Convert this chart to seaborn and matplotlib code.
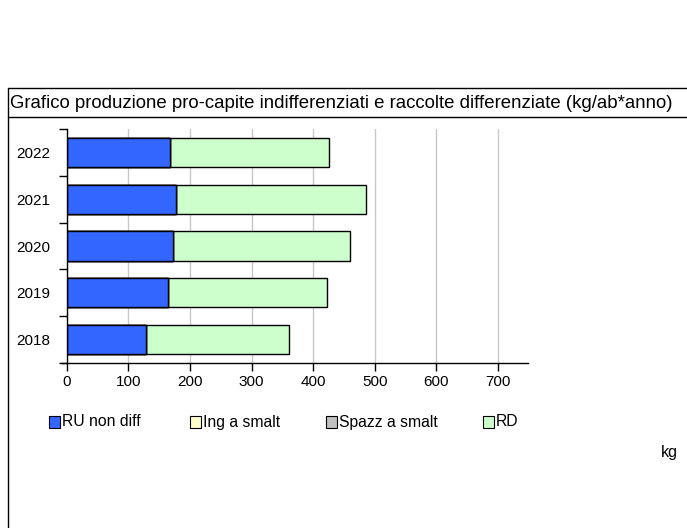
import matplotlib
matplotlib.use("Agg")
import matplotlib.pyplot as plt
from matplotlib.patches import Rectangle
from matplotlib.lines import Line2D
import seaborn as sns
import pandas as pd
import numpy as np

years = ["2022", "2021", "2020", "2019", "2018"]
ru_non_diff = [168, 178, 173, 165, 129]
ing_a_smalt = [0, 0, 0, 0, 0]
spazz_a_smalt = [0, 0, 0, 0, 0]
rd = [257, 307, 286, 257, 231]
series_names = ["RU non diff", "Ing a smalt", "Spazz a smalt", "RD"]
series_colors = ["#3366FF", "#FFFFCC", "#C0C0C0", "#CCFFCC"]
xticks = [0, 100, 200, 300, 400, 500, 600, 700]
title = "Grafico produzione pro-capite indifferenziati e raccolte differenziate (kg/ab*anno)"
unit = "kg"

sns.set_theme(style="white")
FONT = ["Liberation Sans Narrow", "Liberation Sans", "DejaVu Sans"]
plt.rcParams["font.family"] = FONT
plt.rcParams["text.color"] = "black"
plt.rcParams["xtick.color"] = "black"
plt.rcParams["ytick.color"] = "black"

fig = plt.figure(figsize=(6.87, 5.28), dpi=100)
W, H = 687, 528
ax = fig.add_axes([66.7 / W, (H - 363) / H, 461 / W, (363 - 129) / H])

df = pd.DataFrame({"year": years, "RU": ru_non_diff, "ING": ing_a_smalt,
                   "SPAZZ": spazz_a_smalt, "RD": rd})
cols = ["RU", "ING", "SPAZZ", "RD"]
cum = df[cols].cumsum(axis=1)
for col, color in reversed(list(zip(cols, series_colors))):
    tmp = pd.DataFrame({"year": df["year"], "val": cum[col]})
    sns.barplot(data=tmp, y="year", x="val", order=years, orient="h",
                color=color, saturation=1, edgecolor="black", linewidth=1.0,
                width=0.62, ax=ax, zorder=3)

ax.set_xlim(0, 748)
ax.set_ylim(4.5, -0.5)
ax.set_xticks(xticks)
ax.set_xticklabels([str(v) for v in xticks])
ax.set_xlabel("")
ax.set_ylabel("")
ax.grid(axis="x", color="#C8C8C8", linewidth=1.0, zorder=0)
ax.grid(axis="y", visible=False)
for s in ["top", "right"]:
    ax.spines[s].set_visible(False)
for s in ["left", "bottom"]:
    ax.spines[s].set_color("black")
    ax.spines[s].set_linewidth(1.0)
ax.spines["left"].set_zorder(5)
ax.tick_params(axis="x", direction="out", length=6, width=1, colors="black",
               labelsize=11, pad=3, bottom=True)
ax.tick_params(axis="y", which="major", length=0, labelsize=11, pad=12, left=True,
               colors="black")
ax.set_yticks(np.arange(-0.5, 5.0, 1.0), minor=True)
ax.tick_params(axis="y", which="minor", direction="out", length=6, width=1,
               color="black", left=True)
ax.add_line(Line2D([-6 / 461, 0], [0, 0], transform=ax.transAxes, color="black",
                   linewidth=1.0, clip_on=False))

# frame around chart
fig.add_artist(Line2D([8 / W, 8 / W], [0, 1 - 88 / H], transform=fig.transFigure,
                      color="black", linewidth=1.0))
fig.add_artist(Line2D([8 / W, 1], [1 - 88 / H, 1 - 88 / H], transform=fig.transFigure,
                      color="black", linewidth=1.0))
fig.add_artist(Line2D([8 / W, 1], [1 - 117 / H, 1 - 117 / H], transform=fig.transFigure,
                      color="black", linewidth=1.0))
fig.text(10 / W, 1 - 103 / H, title, fontsize=13.4, va="center", ha="left", color="black")

# legend
leg_x = [49, 190, 326, 483]
for x0, name, color in zip(leg_x, series_names, series_colors):
    fig.add_artist(Rectangle((x0 / W, 1 - 428 / H), 11 / W, 12 / H,
                             transform=fig.transFigure, facecolor=color,
                             edgecolor="black", linewidth=0.8))
    fig.text((x0 + 13) / W, 1 - 422 / H, name, fontsize=11.3, va="center", ha="left",
             color="black")

fig.text(678 / W, 1 - 452 / H, unit, fontsize=11.5, va="center", ha="right", color="black")

fig.savefig("out.png", dpi=100)
